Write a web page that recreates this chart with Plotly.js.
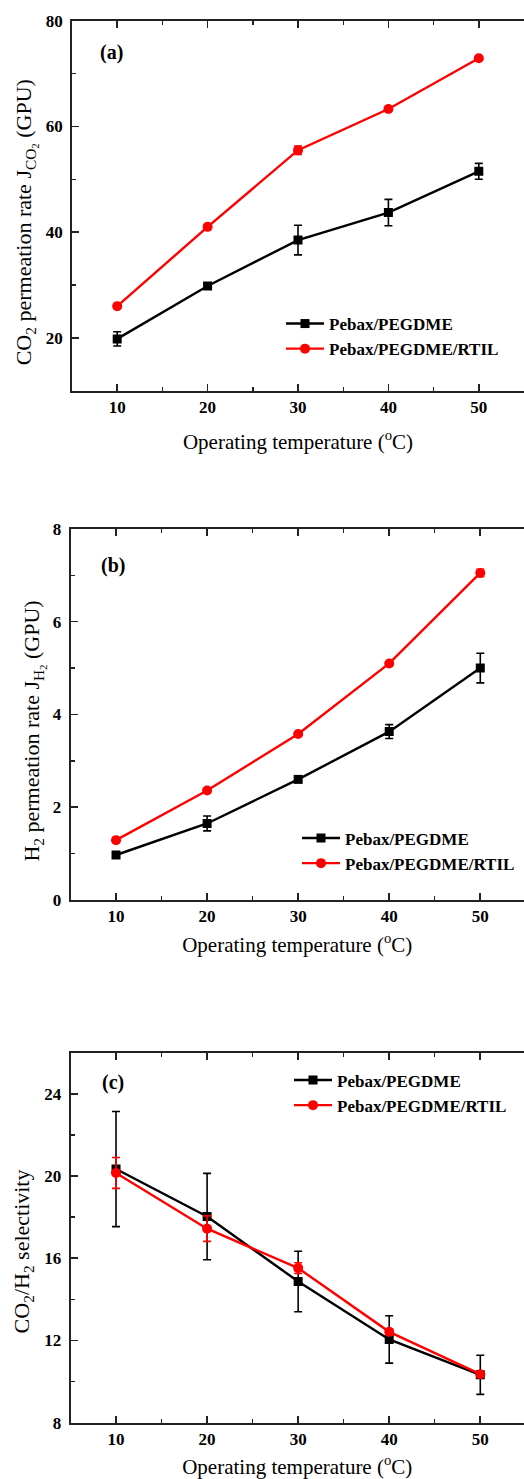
<!DOCTYPE html>
<html>
<head>
<meta charset="utf-8">
<script src="https://cdn.plot.ly/plotly-3.0.1.min.js"></script>
<style>html,body{margin:0;padding:0;background:#fff;}#chart{width:524px;height:1479px;}</style>
</head>
<body>
<div id="chart"></div>
<script>
// ---- data ----
const temperature = [10, 20, 30, 40, 50];
const seriesNames = ["Pebax/PEGDME", "Pebax/PEGDME/RTIL"];

// (a) CO2 permeation rate (GPU)
const co2_pegdme = [19.8, 29.8, 38.5, 43.7, 51.5];
const co2_pegdme_err = [1.35, 0.5, 2.8, 2.5, 1.5];
const co2_rtil = [26.0, 41.0, 55.5, 63.3, 72.9];
const co2_rtil_err = [0.3, 0.3, 0.8, 0.3, 0.3];

// (b) H2 permeation rate (GPU)
const h2_pegdme = [0.97, 1.65, 2.6, 3.63, 5.0];
const h2_pegdme_err = [0.05, 0.16, 0.05, 0.15, 0.32];
const h2_rtil = [1.29, 2.36, 3.58, 5.1, 7.05];
const h2_rtil_err = [0.03, 0.04, 0.03, 0.03, 0.08];

// (c) CO2/H2 selectivity
const sel_pegdme = [20.34, 18.03, 14.87, 12.05, 10.33];
const sel_pegdme_err = [2.8, 2.1, 1.47, 1.15, 0.95];
const sel_rtil = [20.15, 17.44, 15.52, 12.42, 10.36];
const sel_rtil_err = [0.75, 0.62, 0.26, 0.15, 0.12];

const panelLabels = ["(a)", "(b)", "(c)"];
const xTitle = "Operating temperature (<sup>o</sup>C)";
const yTitles = [
  "CO<sub>2</sub> permeation rate J<sub>CO<sub>2</sub></sub> (GPU)",
  "H<sub>2</sub> permeation rate J<sub>H<sub>2</sub></sub> (GPU)",
  "CO<sub>2</sub>/H<sub>2</sub> selectivity"
];

// ---- styling ----
const BLACK = "#000000", RED = "#ff0000";
const serif = "Liberation Serif";
const tickFont = {family: serif, size: 17, color: "#000", weight: "bold"};
const titleFont = {family: serif, size: 21, color: "#000"};
const yTitleFont = {family: serif, size: 22, color: "#000"};
const pad = n => "&nbsp;".repeat(n);

function mk(x, y, err, name, color, symbol, axisIdx, legendId) {
  const sfx = axisIdx === 1 ? "" : String(axisIdx);
  return {
    x: x, y: y, name: name, type: "scatter", mode: "lines+markers",
    xaxis: "x" + sfx, yaxis: "y" + sfx, legend: legendId,
    line: {color: color, width: 2.4},
    marker: {color: color, symbol: symbol, size: symbol === "square" ? 9 : 10},
    error_y: {type: "data", array: err, visible: true, color: color, thickness: 1.6, width: 4}
  };
}

const traces = [
  mk(temperature, co2_pegdme, co2_pegdme_err, seriesNames[0], BLACK, "square", 1, "legend"),
  mk(temperature, co2_rtil, co2_rtil_err, seriesNames[1], RED, "circle", 1, "legend"),
  mk(temperature, h2_pegdme, h2_pegdme_err, seriesNames[0], BLACK, "square", 2, "legend2"),
  mk(temperature, h2_rtil, h2_rtil_err, seriesNames[1], RED, "circle", 2, "legend2"),
  mk(temperature, sel_pegdme, sel_pegdme_err, seriesNames[0], BLACK, "square", 3, "legend3"),
  mk(temperature, sel_rtil, sel_rtil_err, seriesNames[1], RED, "circle", 3, "legend3")
];

const H = 1479, W = 524;
function fy(px) { return (H - px) / H; }

function xAx(domL, range, anchor, standoff) {
  return {
    domain: [domL, 1], range: range, anchor: anchor,
    tickvals: temperature, ticks: "inside", ticklen: 7, tickwidth: 1.6, tickcolor: "#222",
    showline: true, linecolor: "#222", linewidth: 1.8, mirror: "ticks",
    showgrid: false, zeroline: false, tickfont: tickFont, ticklabelstandoff: 0,
    minor: {dtick: 5, tick0: 0, ticks: "inside", ticklen: 4, tickwidth: 1.4, tickcolor: "#222", showgrid: false},
    title: {text: xTitle, font: titleFont, standoff: standoff}
  };
}
function yAx(dom, range, dtick, minorDtick, anchor, title, standoff) {
  return {
    domain: dom, range: range, anchor: anchor, dtick: dtick, tick0: 0,
    ticks: "inside", ticklen: 7, tickwidth: 1.6, tickcolor: "#222",
    showline: true, linecolor: "#222", linewidth: 1.8, mirror: false,
    showgrid: false, zeroline: false, tickfont: tickFont, ticklabelstandoff: 4,
    minor: {dtick: minorDtick, tick0: 0, ticks: "inside", ticklen: 4, tickwidth: 1.4, tickcolor: "#222", showgrid: false},
    title: {text: title, font: yTitleFont, standoff: standoff}
  };
}

const legFont = {family: serif, size: 17, color: "#000", weight: "bold"};
function leg(x, ytop) {
  return {x: x, y: ytop, xanchor: "left", yanchor: "top", font: legFont,
          bgcolor: "rgba(0,0,0,0)", borderwidth: 0, itemwidth: 38, tracegroupgap: 0};
}

const layout = {
  width: W, height: H,
  margin: {l: 0, r: 0, t: 0, b: 0},
  paper_bgcolor: "#fff", plot_bgcolor: "#fff",
  showlegend: true,
  xaxis: xAx(72 / W, [5, 55], "y", 18),
  yaxis: yAx([fy(390.7), fy(20.7)], [10, 80], 20, 10, "x", yTitles[0] + pad(6), 8),
  xaxis2: xAx(70.5 / W, [5, 54.8], "y2", 12),
  yaxis2: yAx([fy(900), fy(528.9)], [0, 8], 2, 1, "x2", yTitles[1] + pad(6), 7),
  xaxis3: xAx(70.5 / W, [5, 54.8], "y3", 13),
  yaxis3: yAx([fy(1422.7), fy(1052.7)], [8, 26], 4, 2, "x3", yTitles[2] + pad(5), 8),
  legend: leg(281 / W, fy(306)),
  legend2: leg(297 / W, fy(820.5)),
  legend3: leg(289 / W, fy(1062.5)),
  annotations: panelLabels.map((t, i) => ({
    text: t, xref: "paper", yref: "paper", showarrow: false,
    x: [111, 113, 112.7][i] / W, y: fy([52, 565, 1082.7][i]),
    xanchor: "center", yanchor: "middle",
    font: {family: serif, size: 20, color: "#000", weight: "bold"}
  }))
};

Plotly.newPlot("chart", traces, layout, {displayModeBar: false, staticPlot: true});
</script>
</body>
</html>
